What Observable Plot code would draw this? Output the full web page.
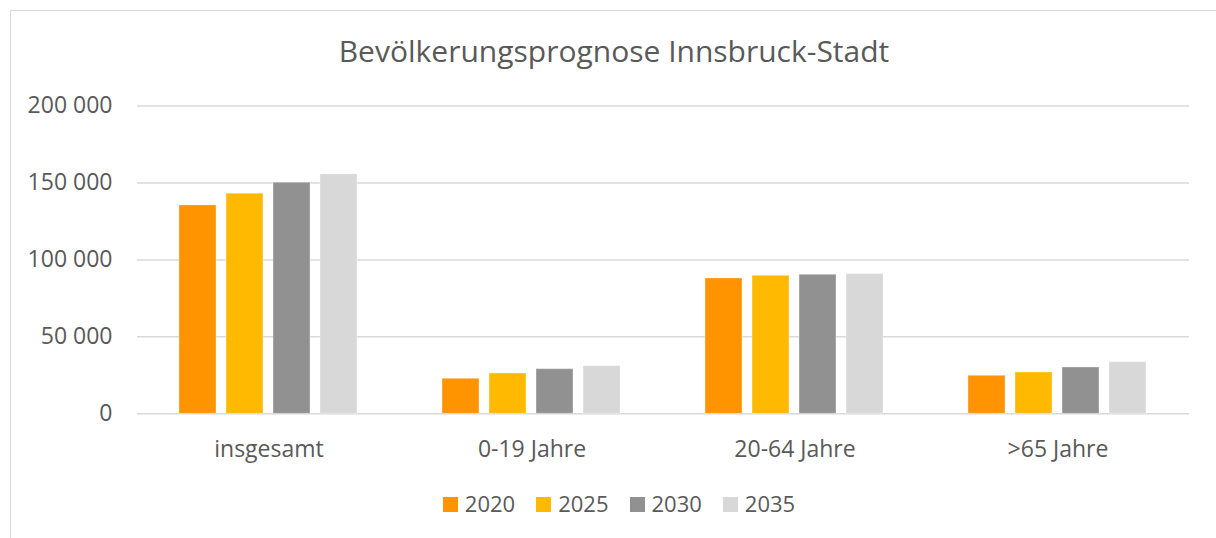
<!DOCTYPE html>
<html>
<head>
<meta charset="utf-8">
<script src="https://cdn.jsdelivr.net/npm/d3@7"></script>
<script src="https://cdn.jsdelivr.net/npm/@observablehq/plot@0.6"></script>
<style>
  html, body { margin: 0; padding: 0; background: #fff; overflow: hidden; }
  #wrap { position: relative; width: 1216px; height: 538px; overflow: hidden; font-family: "Open Sans", "Noto Sans", sans-serif; color: #595959; }
  #frame { position: absolute; left: 10px; top: 10px; width: 1300px; height: 700px; border: 1.5px solid #d9d9d9; box-sizing: border-box; }
  #chart { position: absolute; left: 0; top: 0; }
  #title { position: absolute; left: 0; width: 1228px; top: 36px; text-align: center; font-size: 30px; line-height: 30px; white-space: nowrap; }
  #legend { position: absolute; left: 0; width: 1238px; top: 492px; display: flex; justify-content: center; gap: 21px; font-size: 22px; line-height: 22px; }
  .item { display: flex; align-items: center; gap: 7px; }
  .sw { width: 15px; height: 15px; display: inline-block; margin-top: 3px; }
</style>
</head>
<body>
<div id="wrap">
  <div id="frame"></div>
  <div id="chart"></div>
  <div id="title">Bevölkerungsprognose Innsbruck-Stadt</div>
  <div id="legend"></div>
</div>
<script>
const categories = ["insgesamt", "0-19 Jahre", "20-64 Jahre", ">65 Jahre"];
const years = ["2020", "2025", "2030", "2035"];
const v2020 = [135400, 22750, 87950, 24700];
const v2025 = [143000, 26200, 89700, 26850];
const v2030 = [150150, 29000, 90350, 30100];
const v2035 = [155550, 30950, 90750, 33550];
const yTicks = [0, 50000, 100000, 150000, 200000];
const colors = ["#ff9300", "#ffb900", "#919191", "#d8d8d8"];

const series = [v2020, v2025, v2030, v2035];
const data = [];
categories.forEach((c, i) => {
  years.forEach((yr, j) => {
    data.push({cat: c, year: yr, value: series[j][i]});
  });
});

const fmt = d => d3.format(",")(d).replace(/,/g, " ");

const chart = Plot.plot({
  width: 1216,
  height: 538,
  marginLeft: 136,
  marginRight: 26,
  marginTop: 105.5,
  marginBottom: 124.7,
  style: {fontFamily: '"Open Sans", "Noto Sans", sans-serif', fontSize: "23px", color: "#595959", background: "transparent"},
  fx: {domain: categories, padding: 0, label: null, axis: "bottom", tickSize: 0, tickPadding: 27},
  x: {domain: years, paddingInner: 0.208, paddingOuter: 0.85, axis: null},
  y: {domain: [0, 200000], ticks: yTicks, tickFormat: fmt, tickSize: 0, tickPadding: 25, label: null},
  color: {domain: years, range: colors},
  marks: [
    Plot.ruleY(yTicks, {stroke: "#d9d9d9", strokeWidth: 1.5}),
    Plot.barY(data, {fx: "cat", x: "year", y: "value", fill: "year", stroke: "#ffffff", strokeOpacity: 0.35, strokeWidth: 1})
  ]
});
document.getElementById("chart").appendChild(chart);

const legend = document.getElementById("legend");
years.forEach((yr, i) => {
  const it = document.createElement("div");
  it.className = "item";
  const sw = document.createElement("span");
  sw.className = "sw";
  sw.style.background = colors[i];
  const t = document.createElement("span");
  t.textContent = yr;
  it.appendChild(sw);
  it.appendChild(t);
  legend.appendChild(it);
});
</script>
</body>
</html>
